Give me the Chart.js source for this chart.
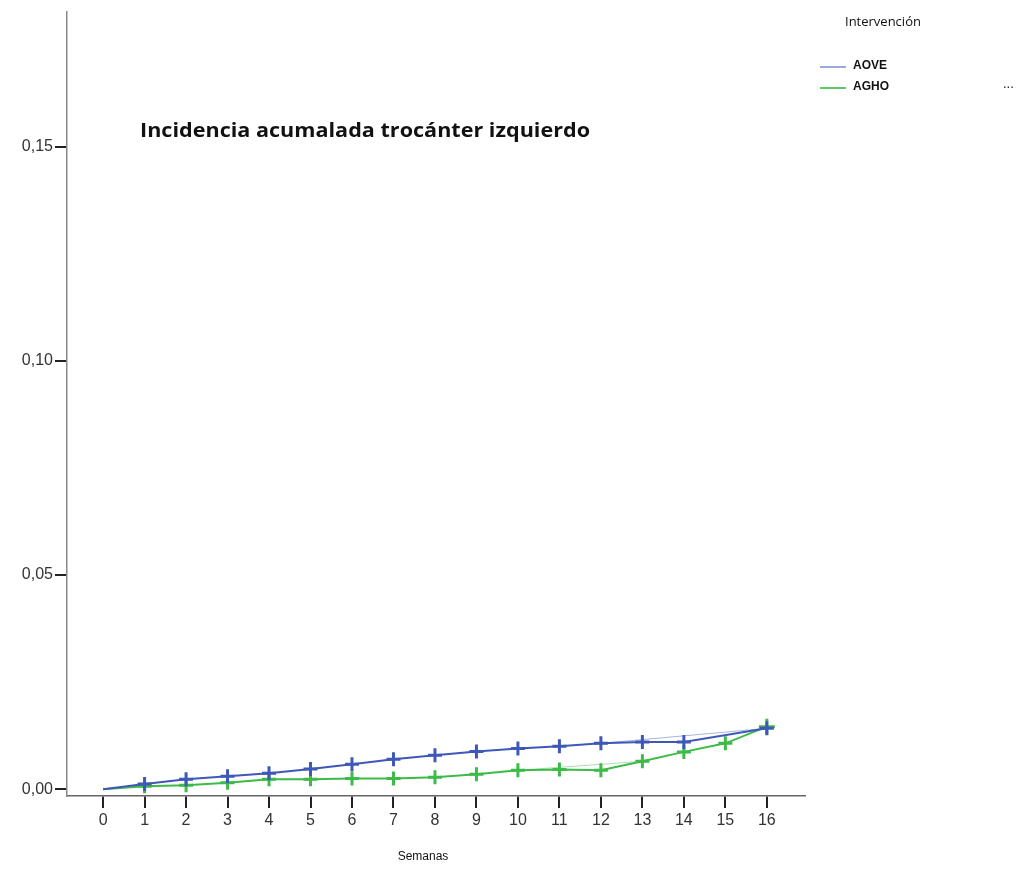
<!DOCTYPE html>
<html>
<head>
<meta charset="utf-8">
<script src="https://cdn.jsdelivr.net/npm/chart.js@4"></script>
<style>
  html, body { margin: 0; padding: 0; background: #fff; }
  #wrap { width: 1024px; height: 870px; }
</style>
</head>
<body>
<div id="wrap"><canvas id="chart" width="1024" height="870"></canvas></div>
<script>
// data
const weeks = [0, 1, 2, 3, 4, 5, 6, 7, 8, 9, 10, 11, 12, 13, 14, 15, 16];
const aove = [0, 0.0012, 0.0023, 0.0030, 0.0037, 0.0047, 0.0058, 0.0070, 0.0079, 0.0088, 0.0095, 0.0100, 0.0107, 0.0110, 0.0110, null, 0.0142];
const agho = [0, 0.0007, 0.0009, 0.0015, 0.0023, 0.0023, 0.0025, 0.0025, 0.0028, 0.0035, 0.0044, 0.0046, 0.0044, 0.0065, 0.0087, 0.0107, 0.0146];
const aoveFaintX = [12, 16];
const aoveFaintY = [0.0107, 0.0142];
const aghoFaintX = [10, 13];
const aghoFaintY = [0.0044, 0.0065];
const yTicks = [0, 0.05, 0.10, 0.15];

const blue = '#3f58b8';
const green = '#3dbb48';

const toPts = (xs, ys) => xs.map((x, i) => ({ x: x, y: ys[i] }));

const decor = {
  id: 'decor',
  afterDraw(chart) {
    const c = chart.ctx;
    c.save();
    c.fillStyle = '#111';
    c.textBaseline = 'middle';
    c.font = 'bold 20px "Open Sans"';
    c.textAlign = 'left';
    // title squeezed a bit to match condensed look
    const title = 'Incidencia acumalada trocánter izquierdo';
    const w = c.measureText(title).width;
    c.save();
    c.translate(140, 131);
    c.scale(450 / w, 1);
    c.fillText(title, 0, 0);
    c.restore();

    c.font = '13px "Open Sans"';
    c.fillText('Intervención', 845, 22);
    c.font = 'bold 12px "Liberation Sans Narrow", "Liberation Sans"';
    c.fillText('AOVE', 853, 66);
    c.fillText('AGHO', 853, 87);
    c.font = '13px "Liberation Sans"';
    c.fillText('...', 1003, 84);
    c.lineWidth = 2;
    c.strokeStyle = '#9aaad8';
    c.beginPath(); c.moveTo(820, 67); c.lineTo(846, 67); c.stroke();
    c.strokeStyle = '#5cc862';
    c.beginPath(); c.moveTo(820, 88); c.lineTo(846, 88); c.stroke();

    c.font = '12px "Liberation Sans Narrow", "Liberation Sans"';
    c.textAlign = 'center';
    c.fillText('Semanas', 423, 857);
    c.restore();
  }
};

new Chart(document.getElementById('chart').getContext('2d'), {
  type: 'line',
  data: {
    datasets: [
      {
        label: 'AOVE faint',
        data: toPts(aoveFaintX, aoveFaintY),
        borderColor: 'rgba(63,88,184,0.45)',
        borderWidth: 1,
        pointRadius: 0
      },
      {
        label: 'AGHO faint',
        data: toPts(aghoFaintX, aghoFaintY),
        borderColor: 'rgba(61,187,72,0.45)',
        borderWidth: 1,
        pointRadius: 0
      },
      {
        label: 'AOVE',
        data: toPts(weeks, aove),
        borderColor: blue,
        borderWidth: 2,
        spanGaps: true,
        pointStyle: 'cross',
        pointRadius: [0, 7, 7, 7, 7, 7, 7, 7, 7, 7, 7, 7, 7, 7, 7, 7, 7],
        pointBorderColor: blue,
        pointBorderWidth: 3
      },
      {
        label: 'AGHO',
        data: toPts(weeks, agho),
        borderColor: green,
        borderWidth: 2,
        pointStyle: 'cross',
        pointRadius: [0, 7, 7, 7, 7, 7, 7, 7, 7, 7, 7, 7, 7, 7, 7, 7, 8],
        pointBorderColor: green,
        pointBorderWidth: 3
      }
    ]
  },
  options: {
    responsive: false,
    animation: false,
    layout: { padding: { top: 8, right: 219, left: 0, bottom: 0 } },
    plugins: {
      legend: { display: false },
      tooltip: { enabled: false }
    },
    scales: {
      x: {
        type: 'linear',
        min: -0.87,
        max: 16.92,
        afterBuildTicks: (s) => { s.ticks = weeks.map(v => ({ value: v })); },
        afterFit: (s) => { s.height = 74; },
        grid: { drawOnChartArea: false, drawTicks: true, tickLength: 12, color: '#222', lineWidth: 2 },
        border: { color: '#666', width: 1.5 },
        ticks: { color: '#333', font: { family: 'Liberation Sans', size: 16 }, padding: 3, maxRotation: 0 }
      },
      y: {
        min: -0.0016,
        max: 0.1816,
        afterBuildTicks: (s) => { s.ticks = yTicks.map(v => ({ value: v })); },
        afterFit: (s) => { s.width = 67; },
        grid: { drawOnChartArea: false, drawTicks: true, tickLength: 12, color: '#222', lineWidth: 2 },
        border: { color: '#888', width: 1.5 },
        ticks: {
          color: '#333',
          font: { family: 'Liberation Sans', size: 16 },
          padding: 2,
          callback: (v) => v.toFixed(2).replace('.', ',')
        }
      }
    }
  },
  plugins: [decor]
});
</script>
</body>
</html>
